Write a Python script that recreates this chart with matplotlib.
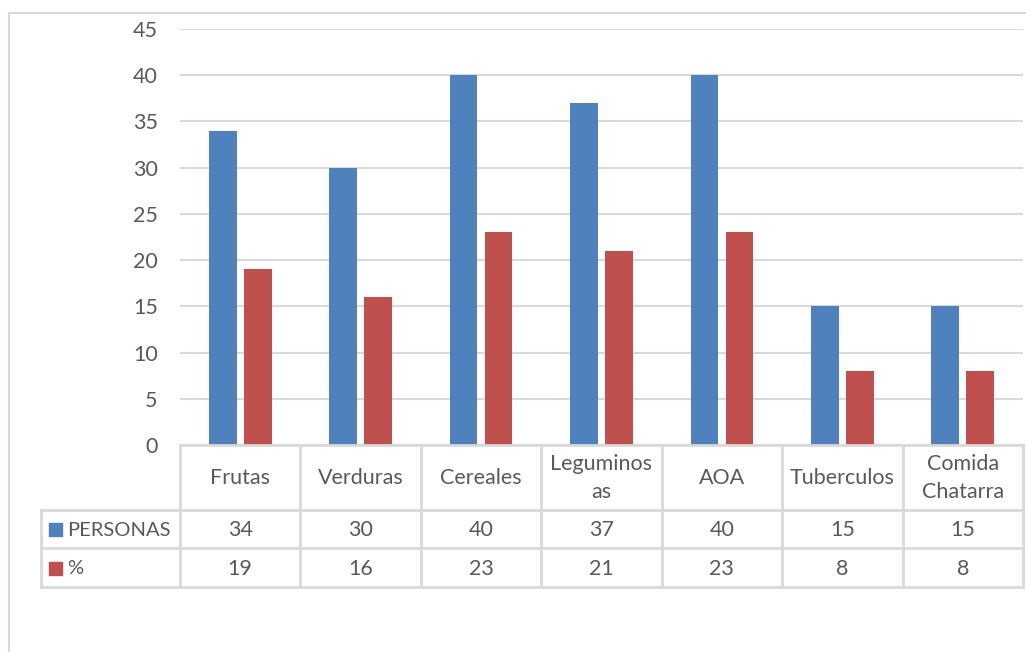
import matplotlib.pyplot as plt
from matplotlib.patches import Rectangle
from matplotlib.lines import Line2D
import numpy as np

categorias = ["Frutas", "Verduras", "Cereales", "Leguminos\nas", "AOA", "Tuberculos", "Comida\nChatarra"]
personas = [34, 30, 40, 37, 40, 15, 15]
porcentaje = [19, 16, 23, 21, 23, 8, 8]
series = ["PERSONAS", "%"]

AZUL = "#4f81bd"
ROJO = "#c0504d"
GRIS = "#d9d9d9"
TEXTO = "#595959"
FS = 15.5

plt.rcParams["font.family"] = ["Lato", "DejaVu Sans"]

W, H = 1026, 652
fig = plt.figure(figsize=(W / 100, H / 100), dpi=100)

def fx(px):
    return px / W

def fy(py):
    return 1 - py / H

ax = fig.add_axes([fx(180), fy(445), fx(1023 - 180), fy(29) - fy(445)])

x = np.arange(len(categorias))
ancho = 0.23
ax.bar(x - 0.145, personas, ancho, color=AZUL, zorder=3)
ax.bar(x + 0.145, porcentaje, ancho, color=ROJO, zorder=3)

ax.set_xlim(-0.5, len(categorias) - 0.5)
ax.set_ylim(0, 45)
ax.set_yticks(range(0, 50, 5))
ax.yaxis.grid(True, color=GRIS, linewidth=1.5, zorder=0)
ax.set_xticks([])
ax.tick_params(axis="y", length=0, pad=16, labelsize=FS, labelcolor=TEXTO)
for s in ax.spines.values():
    s.set_visible(False)

# marco exterior del grafico
fig.add_artist(Line2D([fx(9), fx(9)], [fy(13), 0], color=GRIS, lw=1.5))
fig.add_artist(Line2D([fx(9), 1], [fy(13), fy(13)], color=GRIS, lw=1.5))

# tabla de datos bajo el eje
col_w = (1023 - 180) / len(categorias)
cols = [180 + i * col_w for i in range(len(categorias) + 1)]
filas = [445, 510, 548, 587]
izq = 41

def linea(x0, x1, y0, y1):
    fig.add_artist(Line2D([fx(x0), fx(x1)], [fy(y0), fy(y1)], color=GRIS, lw=2))

linea(180, 1023, 445, 445)
for yy in filas[1:]:
    linea(izq, 1023, yy, yy)
linea(izq, izq, 510, 587)
for c in cols:
    linea(c, c, 445, 587)

for i, cat in enumerate(categorias):
    cx = (cols[i] + cols[i + 1]) / 2
    fig.text(fx(cx), fy(478), cat, ha="center", va="center", fontsize=FS,
             color=TEXTO, linespacing=1.45)
    fig.text(fx(cx), fy(530), str(personas[i]), ha="center", va="center",
             fontsize=FS, color=TEXTO)
    fig.text(fx(cx), fy(569), str(porcentaje[i]), ha="center", va="center",
             fontsize=FS, color=TEXTO)

for nombre, color, yc in zip(series, [AZUL, ROJO], [530, 569]):
    fig.add_artist(Rectangle((fx(49), fy(yc + 6)), fx(13), fy(yc - 7) - fy(yc + 6),
                             color=color, transform=fig.transFigure))
    fig.text(fx(67), fy(yc), nombre, ha="left", va="center", fontsize=14.5, color=TEXTO)

fig.savefig("out.png", dpi=100)
